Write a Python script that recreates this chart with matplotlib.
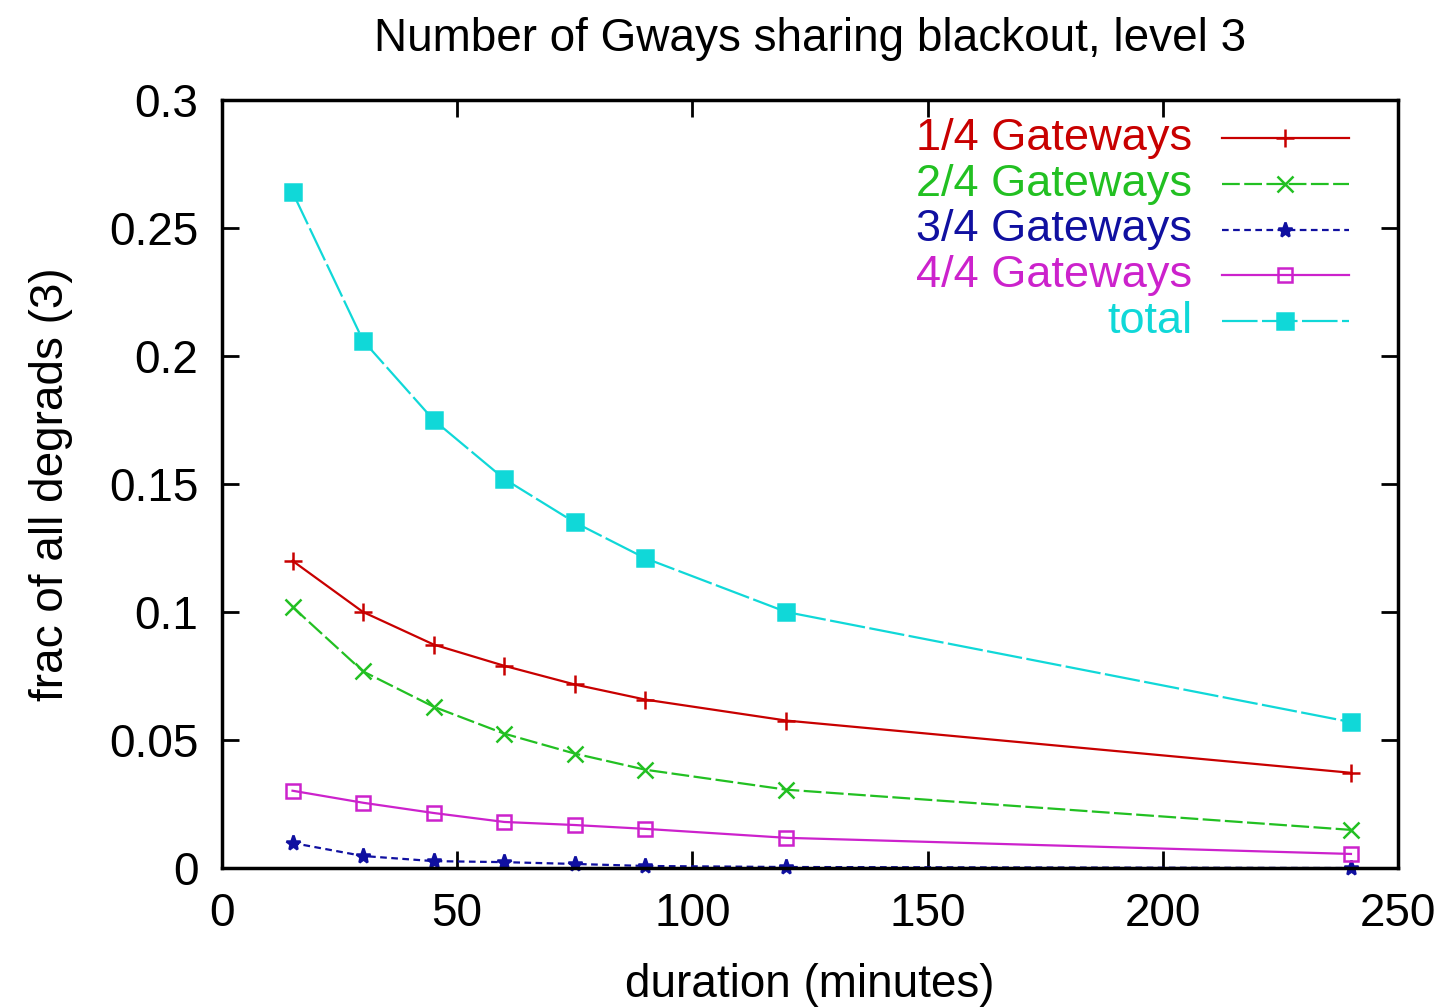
import numpy as np
import matplotlib.pyplot as plt

plt.rcParams['font.family'] = ['Liberation Sans', 'DejaVu Sans']

durations = [15, 30, 45, 60, 75, 90, 120, 240]
gw1 = [0.120, 0.100, 0.0873, 0.079, 0.0717, 0.0658, 0.0576, 0.0372]
gw2 = [0.102, 0.0768, 0.063, 0.0525, 0.0447, 0.0384, 0.0306, 0.0149]
gw3 = [0.0098, 0.0047, 0.0027, 0.0023, 0.0016, 0.0008, 0.0004, 0.0]
gw4 = [0.0302, 0.0255, 0.0215, 0.018, 0.0168, 0.0153, 0.0118, 0.0055]
total = [0.264, 0.206, 0.175, 0.152, 0.135, 0.121, 0.100, 0.057]

labels = ["1/4 Gateways", "2/4 Gateways", "3/4 Gateways", "4/4 Gateways", "total"]
series = [gw1, gw2, gw3, gw4, total]
colors = ["#c80000", "#22c022", "#1010a0", "#cc22cc", "#10d8d8"]
styles = ["-", (0, (8, 2)), (0, (3, 2)), "-", (0, (16, 2))]
markers = ["+", "x", "*", "s", "s"]
msizes = [13, 11, 11, 10, 11]
filled = [True, True, True, False, True]

fig = plt.figure(figsize=(14.46, 10.07), dpi=100)
ax = fig.add_axes([0.1535, 0.138, 0.8133, 0.7627])

for y, lab, c, ls, m, ms, f in zip(series, labels, colors, styles, markers, msizes, filled):
    ax.plot(durations, y, color=c, linestyle=ls, linewidth=1.6, marker=m, markersize=ms,
            markerfacecolor=c if f else "none", markeredgecolor=c, markeredgewidth=1.8,
            clip_on=False)

ax.set_xlim(0, 250)
ax.set_ylim(0, 0.3)
ax.set_xticks([0, 50, 100, 150, 200, 250])
ax.set_yticks([0, 0.05, 0.1, 0.15, 0.2, 0.25, 0.3])
ax.set_yticklabels(["0", "0.05", "0.1", "0.15", "0.2", "0.25", "0.3"])
ax.tick_params(direction="in", length=12, width=2, top=True, right=True,
               labelsize=33, pad=17)
for s in ax.spines.values():
    s.set_linewidth(2.5)

ax.set_title("Number of Gways sharing blackout, level 3", fontsize=33, pad=35)
ax.set_xlabel("duration (minutes)", fontsize=33, labelpad=20)
ax.set_ylabel("frac of all degrads (3)", fontsize=33, labelpad=26)

# legend drawn by hand: right aligned text, sample line on the right
for i, (lab, c, ls, m, ms, f) in enumerate(zip(labels, colors, styles, markers, msizes, filled)):
    yy = 0.950 - i * 0.0595
    ax.text(0.825, yy, lab, color=c, fontsize=32.5, ha="right", va="center",
            transform=ax.transAxes)
    ax.plot([0.85, 0.958], [yy, yy], color=c, linestyle=ls, linewidth=1.6,
            transform=ax.transAxes)
    ax.plot([0.904], [yy], color=c, marker=m, markersize=ms,
            markerfacecolor=c if f else "none", markeredgecolor=c,
            markeredgewidth=1.8, transform=ax.transAxes)

fig.savefig("out.png", dpi=100)
